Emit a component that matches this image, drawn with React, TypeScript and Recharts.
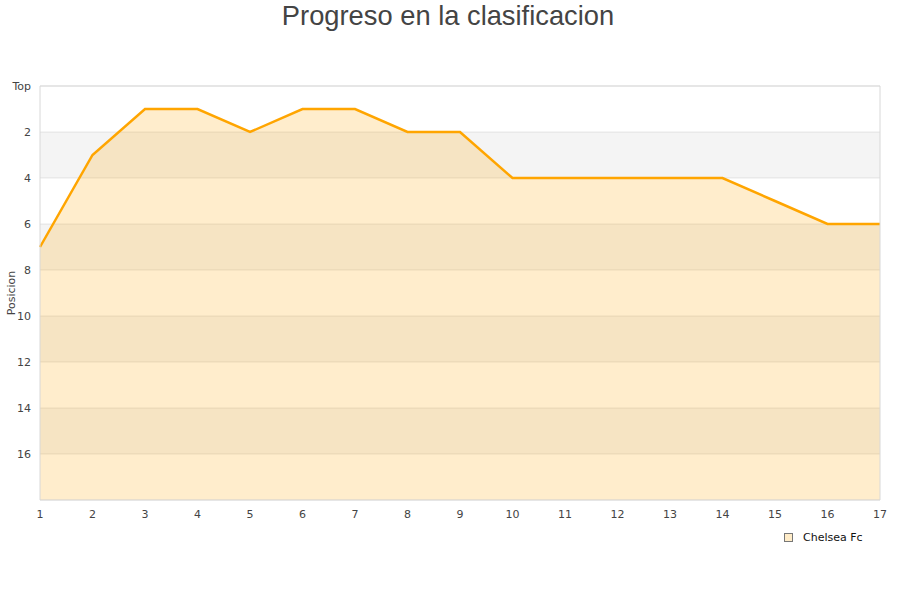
import { ComposedChart, Area, XAxis, YAxis, CartesianGrid, ReferenceArea } from 'recharts';

const jornadas = [1, 2, 3, 4, 5, 6, 7, 8, 9, 10, 11, 12, 13, 14, 15, 16, 17];
const posiciones = [7, 3, 1, 1, 2, 1, 1, 2, 2, 4, 4, 4, 4, 4, 5, 6, 6];
const yTicks = [0, 2, 4, 6, 8, 10, 12, 14, 16];
const bands = [
  [2, 4],
  [6, 8],
  [10, 12],
  [14, 16],
];

const data = jornadas.map((j, i) => ({ jornada: j, posicion: posiciones[i] }));

const font = 'DejaVu Sans, sans-serif';

export default function App() {
  return (
    <div style={{ position: 'absolute', left: 0, top: 0, width: 900, height: 600, background: '#fff' }}>
      <div
        style={{
          position: 'absolute',
          top: 0,
          left: -2,
          width: 900,
          textAlign: 'center',
          fontFamily: 'Liberation Sans, Arial, sans-serif',
          fontSize: 27.3,
          color: '#444',
          lineHeight: '32px',
        }}
      >
        Progreso en la clasificacion
      </div>
      <ComposedChart
        width={900}
        height={600}
        data={data}
        margin={{ top: 86, right: 20, bottom: 70, left: 10 }}
      >
        {bands.map(([a, b]) => (
          <ReferenceArea key={a} y1={a} y2={b} fill="#000" fillOpacity={0.045} stroke="none" ifOverflow="hidden" />
        ))}
        <CartesianGrid vertical={false} stroke="#000" strokeOpacity={0.09} />
        <XAxis
          dataKey="jornada"
          type="number"
          domain={[1, 17]}
          ticks={jornadas}
          axisLine={false}
          tickLine={false}
          height={30}
          tick={{ fill: '#444', fontSize: 11, fontFamily: font }}
          tickMargin={4}
        />
        <YAxis
          type="number"
          reversed
          domain={[0, 18]}
          ticks={yTicks}
          tickFormatter={(v) => (v === 0 ? 'Top' : String(v))}
          axisLine={false}
          tickLine={false}
          width={30}
          tick={{ fill: '#444', fontSize: 11, fontFamily: font }}
          tickMargin={3}
          label={{
            value: 'Posicion',
            angle: -90,
            position: 'insideLeft',
            offset: 1,
            style: { fill: '#444', fontSize: 11, fontFamily: font, textAnchor: 'middle' },
          }}
        />
        <Area
          type="linear"
          dataKey="posicion"
          baseValue={18}
          stroke="#ffa500"
          strokeWidth={2.5}
          fill="#ffa500"
          fillOpacity={0.2}
          dot={false}
          activeDot={false}
          isAnimationActive={false}
        />
        <ReferenceArea x1={1} x2={17} y1={0} y2={18} fill="none" stroke="#d8d8d8" strokeWidth={1} />
      </ComposedChart>
      <div
        style={{
          position: 'absolute',
          left: 784,
          top: 531,
          display: 'flex',
          alignItems: 'center',
          fontFamily: font,
          fontSize: 11,
          color: '#111',
        }}
      >
        <span
          style={{
            display: 'inline-block',
            width: 7,
            height: 7,
            border: '1px solid #777',
            background: '#ffecc8',
            marginRight: 10,
          }}
        />
        Chelsea Fc
      </div>
    </div>
  );
}
